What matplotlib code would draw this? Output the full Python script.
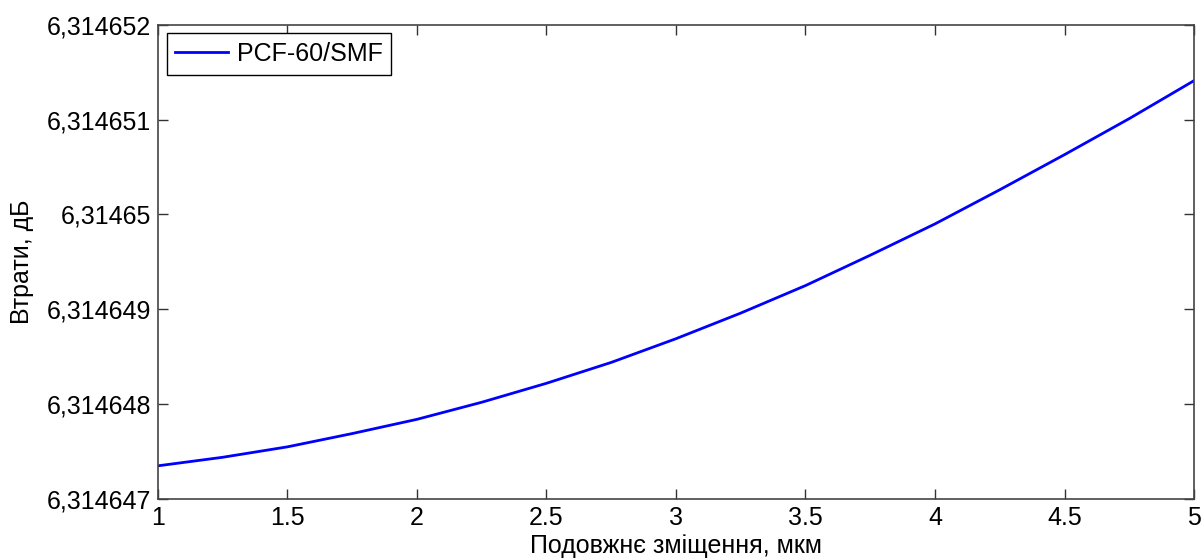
"""Losses vs longitudinal displacement for PCF-60/SMF splice."""

from matplotlib import pyplot as plt
import numpy as np

plt.rcParams['font.family'] = ['Liberation Sans', 'DejaVu Sans']

# Longitudinal displacement [um] and loss excess above 6.314647 dB [units: 1e-6 dB].
shift = [1.0, 1.25, 1.5, 1.75, 2.0, 2.25, 2.5, 2.75, 3.0,
         3.25, 3.5, 3.75, 4.0, 4.25, 4.5, 4.75, 5.0]
loss_delta = [0.35, 0.44, 0.55, 0.69, 0.84, 1.02, 1.22, 1.44, 1.69,
              1.96, 2.25, 2.57, 2.90, 3.26, 3.63, 4.01, 4.41]
loss_base = 6.314647

x_ticks = [1, 1.5, 2, 2.5, 3, 3.5, 4, 4.5, 5]
y_ticks = [6.314647, 6.314648, 6.314649, 6.314650, 6.314651, 6.314652]
y_ticklabels = ['6,314647', '6,314648', '6,314649', '6,31465', '6,314651', '6,314652']

loss = loss_base + np.array(loss_delta) * 1e-6

fig = plt.figure(figsize=(12.04, 5.6), dpi=100)
ax = fig.add_axes([0.1312, 0.1089, 0.8605, 0.847])

ax.plot(shift, loss, color='#0000ff', linewidth=2.0, label='PCF-60/SMF')

ax.set_xlim(1, 5)
ax.set_ylim(y_ticks[0], y_ticks[-1])
ax.set_xticks(x_ticks)
ax.set_xticklabels([f'{t:g}' for t in x_ticks])
ax.set_yticks(y_ticks)
ax.set_yticklabels(y_ticklabels)

ax.tick_params(direction='in', length=7, width=1, top=True, right=True,
               labelsize=18, colors='#333333', labelcolor='black', pad=5)
for s in ax.spines.values():
    s.set_color('#444444')
    s.set_linewidth(1.2)

ax.set_xlabel('Подовжнє зміщення, мкм', fontsize=18, labelpad=3)
ax.set_ylabel('Втрати, дБ', fontsize=18, labelpad=9)

leg = ax.legend(loc='upper left', fontsize=18, fancybox=False, framealpha=1,
                edgecolor='black', handlelength=2.1, handletextpad=0.35,
                borderpad=0.35, borderaxespad=0.35)
leg.get_frame().set_linewidth(1.0)

fig.savefig('out.png', dpi=100)
